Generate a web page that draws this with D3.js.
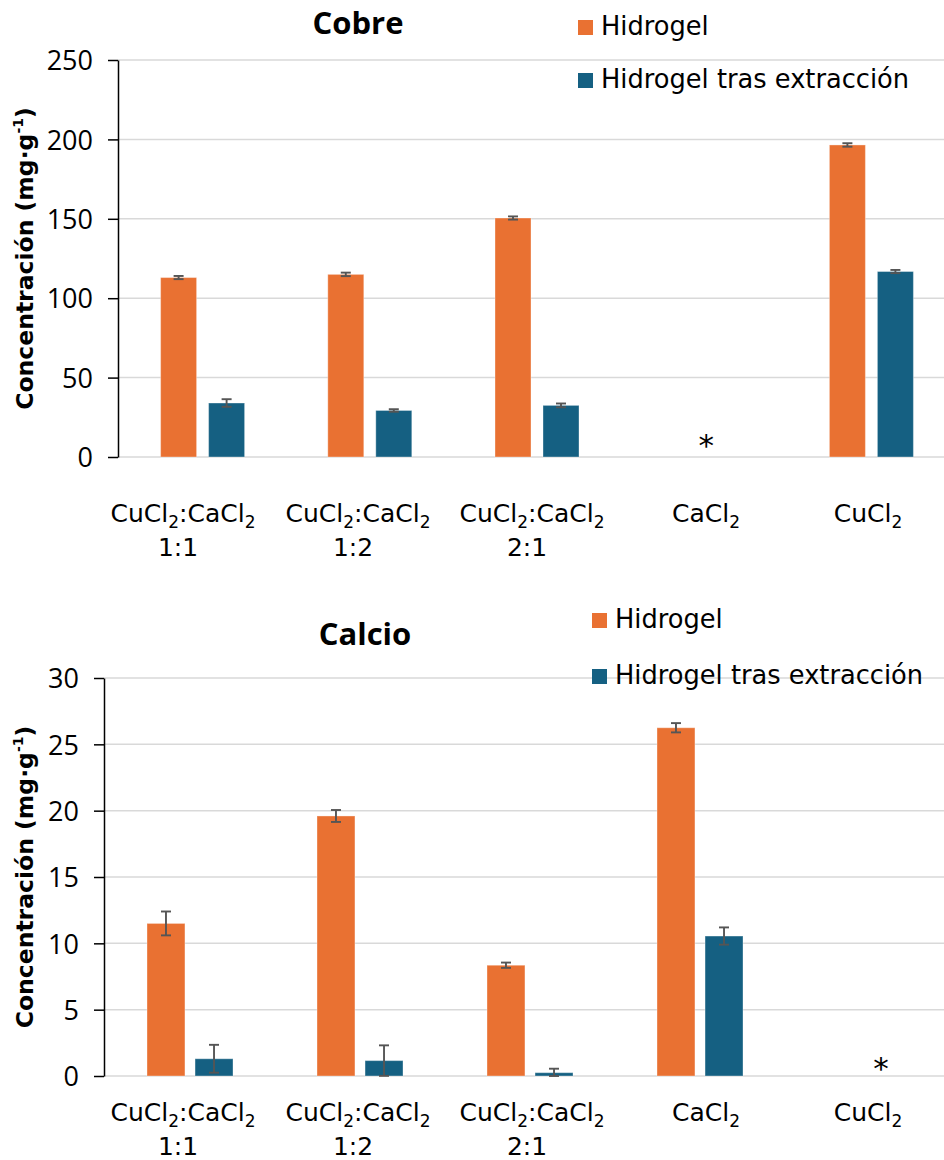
<!DOCTYPE html>
<html>
<head>
<meta charset="utf-8">
<script src="https://cdn.jsdelivr.net/npm/d3@7"></script>
<style>
  body { margin: 0; background: #fff; }
  svg { display: block; }
  .tick text { font-family: "Open Sans", sans-serif; font-size: 27px; fill: #000; }
</style>
</head>
<body>
<svg id="chart" width="944" height="1160"></svg>
<script>
// Categories (x axis), shared by both panels
var categories = ['CuCl2:CaCl2\n1:1', 'CuCl2:CaCl2\n1:2', 'CuCl2:CaCl2\n2:1', 'CaCl2', 'CuCl2'];
var seriesNames = ['Hidrogel', 'Hidrogel tras extracción'];
var colors = ['#E97132', '#156082'];

// Cobre (mg/g), null = not measured (marked with *)
var cobreHidrogel = [113, 115, 150.5, null, 196.5];
var cobreHidrogelErr = [1, 1.1, 1, null, 1.1];
var cobreTras = [34, 29.3, 32.5, null, 116.8];
var cobreTrasErr = [2.4, 0.8, 1.2, null, 1];
var cobreTicks = [0, 50, 100, 150, 200, 250];

// Calcio (mg/g)
var calcioHidrogel = [11.5, 19.6, 8.35, 26.25, null];
var calcioHidrogelErr = [0.9, 0.45, 0.2, 0.35, null];
var calcioTras = [1.3, 1.16, 0.25, 10.55, null];
var calcioTrasErr = [1.05, 1.15, 0.3, 0.65, null];
var calcioTicks = [0, 5, 10, 15, 20, 25, 30];

var svg = d3.select('#chart');

// writes "Cl2" with a subscript 2
function richText(sel, line) {
  var parts = line.split('Cl2');
  parts.forEach(function(p, i) {
    var t = sel.append('tspan').text(p + (i < parts.length - 1 ? 'Cl' : ''));
    if (i > 0) t.attr('dy', -6);
    if (i < parts.length - 1) {
      sel.append('tspan').attr('dy', 6).attr('font-size', '0.68em').text('2');
    }
  });
}

function drawChart(o) {
  var g = svg.append('g');
  var x = d3.scaleBand().domain(categories).range([o.left + 1, 955]);
  var y = d3.scaleLinear().domain([0, d3.max(o.ticks)]).range([o.bottom, o.top]);
  var xs = d3.scaleBand().domain([0, 1]).range([-o.group / 2, o.group / 2]).paddingInner(o.pad);

  // Gridlines
  g.selectAll('.grid').data(o.ticks).join('line').attr('class', 'grid')
    .attr('x1', o.left).attr('x2', 944)
    .attr('y1', function(d) { return y(d); }).attr('y2', function(d) { return y(d); })
    .attr('stroke', '#d9d9d9').attr('stroke-width', 1.5);

  // Y axis
  var ax = g.append('g').attr('transform', 'translate(' + o.left + ',0)')
    .call(d3.axisLeft(y).tickValues(o.ticks).tickSize(10).tickSizeOuter(0).tickPadding(15).tickFormat(d3.format('d')));
  ax.select('.domain').attr('stroke', '#000').attr('stroke-width', 1.5);
  ax.selectAll('.tick line').attr('stroke', '#000').attr('stroke-width', 1.5);
  ax.selectAll('.tick text').attr('dy', '0.36em');

  // Bars
  var recs = [];
  o.series.forEach(function(s, si) {
    s.values.forEach(function(v, i) {
      if (v != null) recs.push({ cat: categories[i], s: si, v: v, e: s.err[i] });
    });
  });
  g.selectAll('.bar').data(recs).join('rect').attr('class', 'bar')
    .attr('x', function(d) { return x(d.cat) + x.bandwidth() / 2 + xs(d.s); })
    .attr('width', xs.bandwidth())
    .attr('y', function(d) { return y(d.v); })
    .attr('height', function(d) { return y(0) - y(d.v); })
    .attr('fill', function(d) { return colors[d.s]; })
    .attr('stroke', 'rgba(255,255,255,0.35)').attr('stroke-width', 1);

  // Error bars
  var eb = g.selectAll('.err').data(recs).join('g').attr('class', 'err')
    .attr('stroke', '#555').attr('stroke-width', 1.9);
  function cx(d) { return x(d.cat) + x.bandwidth() / 2 + xs(d.s) + xs.bandwidth() / 2; }
  eb.append('line').attr('x1', cx).attr('x2', cx)
    .attr('y1', function(d) { return y(d.v + d.e); }).attr('y2', function(d) { return y(Math.max(0, d.v - d.e)); });
  eb.append('line').attr('x1', function(d) { return cx(d) - 5; }).attr('x2', function(d) { return cx(d) + 5; })
    .attr('y1', function(d) { return y(d.v + d.e); }).attr('y2', function(d) { return y(d.v + d.e); });
  eb.append('line').attr('x1', function(d) { return cx(d) - 5; }).attr('x2', function(d) { return cx(d) + 5; })
    .attr('y1', function(d) { return y(Math.max(0, d.v - d.e)); }).attr('y2', function(d) { return y(Math.max(0, d.v - d.e)); });

  // Asterisk where no data
  g.append('text').attr('x', x(categories[o.noData]) + x.bandwidth() / 2 + o.starDx).attr('y', y(o.starAt) + 16)
    .attr('text-anchor', 'middle').attr('font-family', 'DejaVu Sans, sans-serif').attr('font-size', 31).text('*');

  // Category labels
  categories.forEach(function(c, i) {
    c.split('\n').forEach(function(line, li) {
      var t = g.append('text').attr('x', o.labelX[i] + (li ? -5 : 0)).attr('y', o.labelY + li * 34)
        .attr('text-anchor', 'middle').attr('font-family', 'DejaVu Sans, sans-serif').attr('font-size', 25);
      richText(t, line);
    });
  });

  // Title
  g.append('text').attr('x', o.titleX).attr('y', o.titleY).attr('text-anchor', 'middle')
    .attr('font-family', 'Open Sans, sans-serif').attr('font-weight', 700).attr('font-size', 31).text(o.title);

  // Y axis title
  var yl = g.append('text').attr('transform', 'translate(33,' + ((o.top + o.bottom) / 2) + ') rotate(-90)')
    .attr('text-anchor', 'middle').attr('font-family', 'DejaVu Sans, sans-serif').attr('font-weight', 700).attr('font-size', 23.5);
  yl.append('tspan').text('Concentración (mg·g');
  yl.append('tspan').attr('dy', -10).attr('font-size', '0.6em').text('-1');
  yl.append('tspan').attr('dy', 10).text(')');

  // Legend
  seriesNames.forEach(function(n, i) {
    g.append('rect').attr('x', o.legendX).attr('y', o.legendY[i] - 15).attr('width', 15).attr('height', 15).attr('fill', colors[i]);
    g.append('text').attr('x', o.legendX + 23).attr('y', o.legendY[i])
      .attr('font-family', 'DejaVu Sans, sans-serif').attr('font-size', 25.7).text(n);
  });
}

drawChart({
  title: 'Cobre', titleX: 358, titleY: 34,
  left: 118, top: 60, bottom: 457,
  ticks: cobreTicks, group: 84, pad: 0.25,
  series: [{ values: cobreHidrogel, err: cobreHidrogelErr }, { values: cobreTras, err: cobreTrasErr }],
  noData: 3, starAt: 11, starDx: 2,
  labelX: [183, 358, 532, 706, 868], labelY: 522,
  legendX: 578, legendY: [35, 88]
});

drawChart({
  title: 'Calcio', titleX: 365, titleY: 645,
  left: 104, top: 678, bottom: 1076,
  ticks: calcioTicks, group: 86, pad: 0.21,
  series: [{ values: calcioHidrogel, err: calcioHidrogelErr }, { values: calcioTras, err: calcioTrasErr }],
  noData: 4, starAt: 1, starDx: 11,
  labelX: [183, 358, 532, 706, 868], labelY: 1121,
  legendX: 592, legendY: [628, 684]
});
</script>
</body>
</html>
